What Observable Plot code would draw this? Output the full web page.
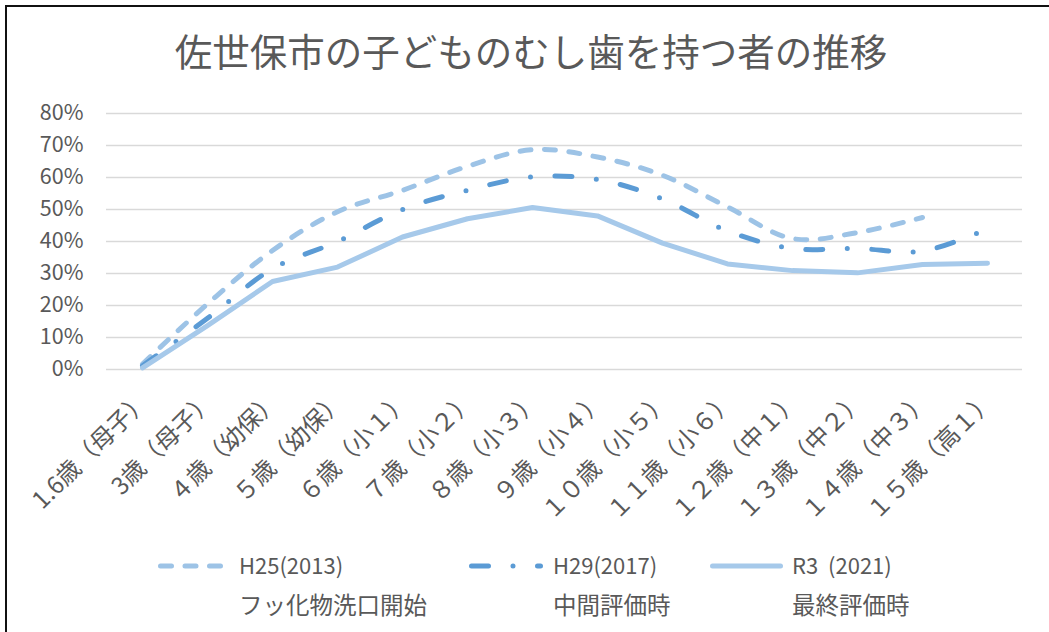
<!DOCTYPE html>
<html>
<head>
<meta charset="utf-8">
<script src="https://cdn.jsdelivr.net/npm/d3@7"></script>
<script src="https://cdn.jsdelivr.net/npm/@observablehq/plot@0.6"></script>
<style>
  html, body { margin: 0; padding: 0; background: #fff; }
  body { font-family: "Noto Sans CJK JP", "Noto Sans", sans-serif; color: #595959; }
  #wrap { position: relative; width: 1049px; height: 632px; overflow: hidden; }
  #frame { position: absolute; left: 5px; top: 5px; width: 1200px; height: 800px;
           border-left: 2px solid #111; border-top: 2px solid #111; box-sizing: border-box; }
  #title { position: absolute; top: 30px; left: 531px; transform: translateX(-50%);
           font-size: 37.5px; line-height: 39px; white-space: nowrap; color: #595959; }
  #plot { position: absolute; left: 0; top: 0; }
  .legItem { position: absolute; top: 544px; }
  .legItem svg { position: absolute; top: 12px; }
  .legLabel { position: absolute; white-space: pre; line-height: 40px; color: #595959; }
  .legName { font-size: 22px; display: block; }
  .legNote { font-size: 23.5px; display: block; }
</style>
</head>
<body>
<div id="wrap">
  <div id="frame"></div>
  <div id="title"></div>
  <div id="plot"></div>
  <div id="legend"></div>
</div>
<script>
// ---- data ----
const titleText = "佐世保市の子どものむし歯を持つ者の推移";
const categories = [
  "1.6歳（母子）", "3歳（母子）", "４歳（幼保）", "５歳（幼保）", "６歳（小１）",
  "７歳（小２）", "８歳（小３）", "９歳（小４）", "１０歳（小５）", "１１歳（小６）",
  "１２歳（中１）", "１３歳（中２）", "１４歳（中３）", "１５歳（高１）"
];
const h25 = [0.017, 0.205, 0.372, 0.493, 0.560, 0.635, 0.687, 0.664, 0.607, 0.508, 0.409, 0.428, 0.475, null];
const h29 = [0.012, 0.160, 0.315, 0.400, 0.500, 0.560, 0.602, 0.594, 0.533, 0.433, 0.378, 0.378, 0.370, 0.440];
const r3  = [0.005, 0.137, 0.275, 0.320, 0.414, 0.471, 0.506, 0.480, 0.395, 0.330, 0.309, 0.302, 0.328, 0.332];
const yTicks = [0, 0.1, 0.2, 0.3, 0.4, 0.5, 0.6, 0.7, 0.8];
const seriesNames = ["H25(2013)", "H29(2017)", "R3  (2021)"];
const seriesNotes = ["フッ化物洗口開始", "中間評価時", "最終評価時"];

// ---- styles ----
const seriesStyles = [
  {stroke: "#9DC3E6", dash: "11,13.5", curve: "catmull-rom"},
  {stroke: "#5B9BD5", dash: "17,24.5,0,24.5", curve: "catmull-rom"},
  {stroke: "#A6C9EA", dash: null, curve: "linear"}
];
const seriesValues = [h25, h29, r3];

document.getElementById("title").textContent = titleText;

const lineMarks = seriesValues.map((vals, k) => Plot.line(categories, {
  x: d => d,
  y: (d, i) => vals[i] == null ? NaN : vals[i],
  stroke: seriesStyles[k].stroke,
  strokeWidth: 5,
  strokeDasharray: seriesStyles[k].dash ?? undefined,
  strokeLinecap: "round",
  strokeLinejoin: "round",
  curve: seriesStyles[k].curve
}));

const chart = Plot.plot({
  width: 1049,
  height: 545,
  marginTop: 113,
  marginBottom: 176,
  marginLeft: 106,
  marginRight: 27,
  style: {background: "transparent", fontFamily: "'Noto Sans CJK JP', 'Noto Sans', sans-serif", color: "#595959"},
  x: {type: "point", domain: categories, padding: 0.5, label: null},
  y: {domain: [0, 0.8], label: null},
  marks: [
    Plot.ruleY(yTicks, {stroke: "#D9D9D9", strokeWidth: 1.5}),
    Plot.axisY(yTicks, {tickFormat: d => Math.round(d * 100) + "%", tickSize: 0, tickPadding: 23,
      fontSize: 21.5, fill: "#595959", label: null}),
    Plot.axisX({tickSize: 0, tickRotate: -45, tickPadding: 27, dx: 3, fontSize: 24, fill: "#595959", label: null}),
    ...lineMarks
  ]
});
document.getElementById("plot").appendChild(chart);

// ---- legend ----
const legPos = [
  {sample: 160, label: 239},
  {sample: 471, label: 553},
  {sample: 712, label: 792}
];
const sampleLen = [65, 74, 73];
const legend = document.getElementById("legend");
seriesNames.forEach((name, k) => {
  const item = document.createElement("div");
  item.className = "legItem";
  item.style.left = "0px";
  const w = sampleLen[k] + 5;
  const svg = d3.create("svg").attr("width", w).attr("height", 20)
    .style("left", (legPos[k].sample - 2.5) + "px");
  svg.append("line").attr("x1", 2.5).attr("x2", 2.5 + sampleLen[k] - 5).attr("y1", 10).attr("y2", 10)
    .attr("stroke", seriesStyles[k].stroke).attr("stroke-width", 5).attr("stroke-linecap", "round")
    .attr("stroke-dasharray", seriesStyles[k].dash);
  item.appendChild(svg.node());
  const lab = document.createElement("div");
  lab.className = "legLabel";
  lab.style.left = legPos[k].label + "px";
  lab.style.top = "0px";
  const n1 = document.createElement("span"); n1.className = "legName"; n1.textContent = name;
  const n2 = document.createElement("span"); n2.className = "legNote"; n2.textContent = seriesNotes[k];
  lab.appendChild(n1); lab.appendChild(n2);
  item.appendChild(lab);
  legend.appendChild(item);
});
</script>
</body>
</html>
